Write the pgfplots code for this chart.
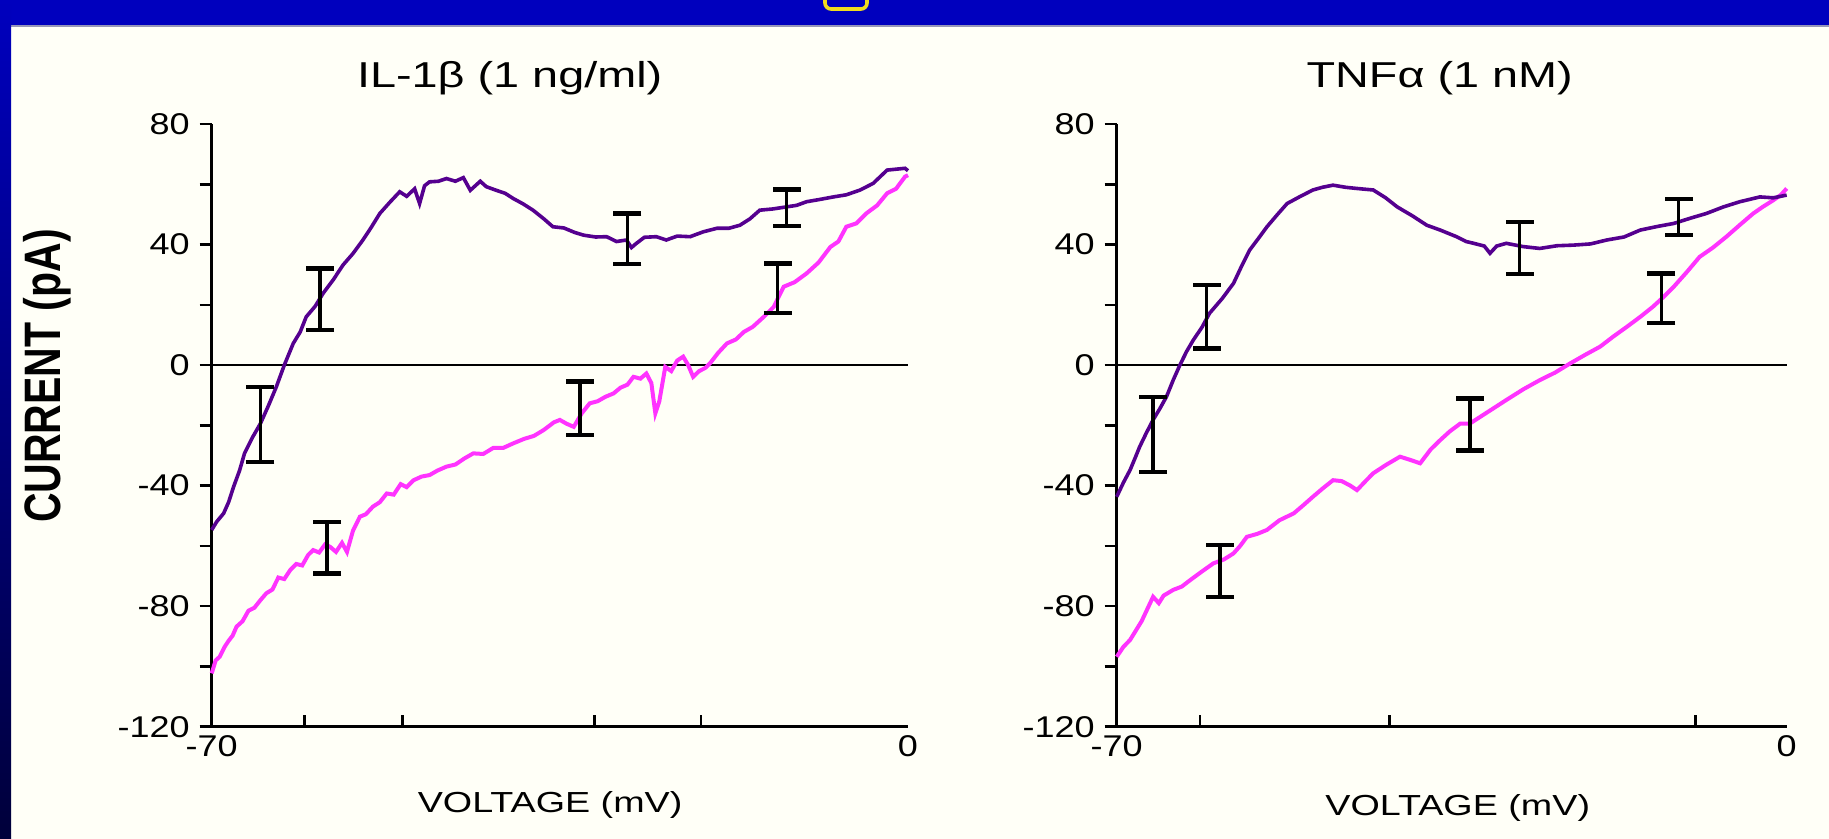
\documentclass[border=0pt]{standalone}
\usepackage{fontspec}
\setmainfont{Liberation Sans}
\usepackage{graphicx}
\usepackage{pgfplots}
\pgfplotsset{compat=1.18}
\definecolor{bg}{HTML}{FFFFF7}
\definecolor{frameblue}{HTML}{0000BE}
\definecolor{framedark}{HTML}{00003A}
\definecolor{trpurple}{HTML}{55008F}
\definecolor{trmag}{HTML}{FF33FF}
\newcommand{\hs}[1]{\scalebox{1.3}[1]{#1}}
\newcommand{\ts}[1]{\scalebox{1.2}[1]{#1}}

\pgfplotsset{
 panel/.style={
  scale only axis,
  axis x line=bottom, axis y line=left,
  axis line style={-, line width=1.3pt, black},
  every outer x axis line/.append style={-},
  every outer y axis line/.append style={-},
  xmin=-70, xmax=0, ymin=-120, ymax=80,
  clip=false,
  tick align=inside,
  major tick length=6pt,
  tick style={line width=1.3pt, black},
  ytick style={xshift=-6pt},
  ytick={-120,-100,...,80},
  yticklabels={\ts{-120},,\ts{-80},,\ts{-40},,\ts{0},,\ts{40},,\ts{80}},
  yticklabel style={anchor=east, inner sep=0pt, xshift=-10.8pt, font=\fontsize{15}{15}\selectfont},
  xticklabels={},
  extra x ticks={-70,0},
  extra x tick labels={\ts{-70},\ts{0}},
  extra x tick style={major tick length=0pt, xticklabel style={anchor=north, inner sep=0pt, yshift=-4pt, font=\fontsize{15}{15}\selectfont}},
  title style={anchor=center, inner sep=0pt, font=\fontsize{18}{18}\selectfont},
  xlabel style={anchor=center, inner sep=0pt, font=\fontsize{14.5}{14.5}\selectfont},
 },
 ebar/.style={draw=none, error bars/.cd, y dir=both, y explicit, error mark=none, error bar style={draw=black, line width=1.8pt}},
 ecap/.style={only marks, mark=-, mark size=7pt, mark options={draw=black, line width=2.2pt}},
}

\begin{document}
\begin{tikzpicture}[x=1pt,y=1pt]
\useasboundingbox (0,0) rectangle (914.5,419.5);
\fill[bg] (0,0) rectangle (914.5,419.5);
\fill[frameblue] (0,406.5) rectangle (914.5,419.5);
\draw[color={rgb,255:red,150;green,150;blue,185}, line width=0.8pt] (5.5,406.5) -- (914.5,406.5);
\shade[top color=frameblue, bottom color=framedark] (0,0) rectangle (5.5,419.5);
\begin{scope}
\clip (0,406.5) rectangle (914.5,419.5);
\draw[color={rgb,255:red,240;green,220;blue,30}, line width=1.8pt, rounded corners=3pt] (412.5,415) rectangle (433.5,432);
\end{scope}

% ---------------- left panel: IL-1beta ----------------
\begin{axis}[panel,
  width=348.15pt, height=301.35pt, at={(105.85pt,56.15pt)}, anchor=south west,
  xtick={-60.7,-50.8,-31.5,-20.8},
  title={\hs{IL-1β (1 ng/ml)}},
  title style={at={(axis description cs:0.428,1.056)}},
  xlabel={\hs{VOLTAGE (mV)}},
  xlabel style={at={(axis description cs:0.486,-0.13)}},
  ylabel={\scalebox{1}[1.25]{\bfseries CURRENT (pA)}},
  ylabel style={at={(axis description cs:-0.2365,0.582)}, anchor=center, font=\fontsize{20.5}{20.5}\selectfont},
]
\addplot[black, line width=1.3pt] coordinates {(-70,0) (0,0)};
\addplot[trmag, line width=2pt] coordinates {
(-70,-102.3) (-69.6,-98) (-69.2,-96.8) (-68.7,-93.5) (-68.3,-91.5) (-67.9,-89.8) (-67.5,-86.8) (-66.9,-85) (-66.3,-81.5) (-65.7,-80.5)
(-65.1,-78) (-64.5,-75.7) (-63.9,-74.5) (-63.3,-70.5) (-62.7,-71) (-62.1,-68) (-61.5,-66) (-60.9,-66.5) (-60.3,-63) (-59.8,-61.4)
(-59.2,-62.2) (-58.6,-59.5) (-58.1,-60.3) (-57.5,-62) (-56.9,-59) (-56.4,-62) (-55.8,-55) (-55.1,-50.3) (-54.5,-49.5) (-53.8,-47)
(-53.1,-45.5) (-52.4,-42.6) (-51.7,-43) (-51.0,-39.5) (-50.4,-40.5) (-49.7,-38.2) (-48.9,-37) (-48.1,-36.5) (-47.3,-35) (-46.4,-33.7)
(-45.5,-33) (-44.6,-31) (-43.7,-29.3) (-42.7,-29.5) (-41.7,-27.5) (-40.7,-27.5) (-39.7,-26) (-38.6,-24.5) (-37.6,-23.5) (-36.6,-21.5)
(-35.6,-19) (-35,-18.2) (-34.3,-19.5) (-33.6,-20.5) (-32.8,-16) (-32,-12.7) (-31.2,-12) (-30.4,-10.5) (-29.6,-9.4) (-28.9,-7.5)
(-28.2,-6.5) (-27.6,-3.9) (-26.9,-4.5) (-26.3,-2.8) (-25.8,-6) (-25.4,-16) (-25,-12) (-24.4,-0.6) (-23.8,-2) (-23.2,1.5)
(-22.6,2.8) (-22.1,0) (-21.6,-3.9) (-21,-2) (-20.4,-1) (-19.9,0.6) (-19.1,4) (-18.2,7.2) (-17.3,8.5) (-16.5,11)
(-15.6,12.7) (-14.5,16) (-13.5,19.3) (-12.5,26) (-11.4,27.5) (-10.2,30.4) (-9,34) (-7.8,39.2) (-7,41) (-6.2,45.9)
(-5.2,47) (-4.2,50.3) (-3.1,53) (-2.1,57) (-1.2,58.5) (-0.3,62.5) (0,63)
};
\addplot[trpurple, line width=1.8pt] coordinates {
(-70,-54.7) (-69.5,-52) (-68.8,-49.2) (-68.3,-45.5) (-67.8,-40.4) (-67.2,-35) (-66.7,-29.3) (-65.9,-24) (-65.1,-19.4) (-64.3,-13.5)
(-63.5,-7.2) (-62.7,0) (-61.8,7.2) (-61.1,11) (-60.5,16) (-59.6,19.5) (-58.8,23.8) (-57.8,28.2) (-56.8,33.2) (-55.8,37)
(-54.8,41.5) (-54,45.5) (-53.1,50.3) (-52.1,54) (-51.1,57.5) (-50.4,56) (-49.6,58.5) (-49.1,53.6) (-48.6,59.5) (-48.1,60.8)
(-47.2,61) (-46.4,61.9) (-45.5,61) (-44.7,62.2) (-44.0,58) (-43.6,59.2) (-43,61) (-42.4,59.2) (-41.4,58) (-40.5,57)
(-39.7,55.3) (-38.7,53.5) (-37.7,51.4) (-36.6,48.5) (-35.7,45.9) (-34.6,45.5) (-33.5,44) (-32.6,43.1) (-31.4,42.5) (-30.3,42.6)
(-29.3,41) (-28.3,41.5) (-27.8,39) (-27.3,40.4) (-26.5,42.4) (-25.3,42.6) (-24.3,41.5) (-23.2,42.8) (-21.9,42.6) (-20.6,44.2)
(-19.2,45.4) (-18,45.4) (-16.9,46.4) (-15.9,48.5) (-14.9,51.4) (-13.6,51.8) (-12.2,52.5) (-11.2,53) (-10.2,54.2) (-8.8,55)
(-7.5,55.8) (-6.2,56.5) (-4.8,58.1) (-3.5,60.3) (-2.8,62.5) (-2.1,64.7) (-1.2,65) (-0.3,65.3) (0,64.5)
};
\addplot[ebar] coordinates {
(-65.1,-19.65) +- (0,12.45)
(-59.1,21.85) +- (0,10.25)
(-58.4,-60.55) +- (0,8.55)
(-33.0,-14.35) +- (0,8.85)
(-28.2,41.9) +- (0,8.4)
(-13.1,25.45) +- (0,8.25)
(-12.2,52.2) +- (0,6.1)
};
\addplot[ecap] coordinates {
(-65.1,-7.2) (-65.1,-32.1) (-59.1,32.1) (-59.1,11.6) (-58.4,-52) (-58.4,-69.1)
(-33.0,-5.5) (-33.0,-23.2) (-28.2,50.3) (-28.2,33.5) (-13.1,33.7) (-13.1,17.2)
(-12.2,58.3) (-12.2,46.1)
};
\end{axis}

% ---------------- right panel: TNF-alpha ----------------
\begin{axis}[panel,
  width=335pt, height=301.35pt, at={(558.35pt,56.15pt)}, anchor=south west,
  xtick={-61.3,-41.5,-9.5},
  title={\hs{TNFα (1 nM)}},
  title style={at={(axis description cs:0.482,1.056)}},
  xlabel={\hs{VOLTAGE (mV)}},
  xlabel style={at={(axis description cs:0.509,-0.135)}},
]
\addplot[black, line width=1.3pt] coordinates {(-70,0) (0,0)};
\addplot[trmag, line width=2pt] coordinates {
(-70,-96.8) (-69.3,-93.5) (-68.6,-91.2) (-67.4,-85) (-66.2,-76.9) (-65.6,-79) (-65.1,-76.5) (-64.1,-74.6) (-63.2,-73.5) (-62.3,-71.3)
(-61.1,-68.5) (-59.9,-65.8) (-58.8,-64.5) (-57.8,-62.5) (-57.1,-60) (-56.4,-57) (-55.3,-56) (-54.3,-54.7) (-53,-51.5) (-51.5,-49.2)
(-50.5,-46.5) (-49.5,-43.7) (-48.5,-41) (-47.4,-38.2) (-46.5,-38.5) (-45.6,-40) (-44.9,-41.5) (-44,-38.5) (-43.2,-35.9) (-41.8,-33)
(-40.4,-30.4) (-39.3,-31.5) (-38.3,-32.6) (-37.2,-28) (-36.2,-24.9) (-35.2,-22) (-34.1,-19.4) (-33.1,-19.4) (-31.2,-15.5) (-29.3,-11.6)
(-27.5,-8) (-25.8,-5) (-24.2,-2.5) (-22.6,0.6) (-21,3.5) (-19.5,6.1) (-18.1,9.5) (-16.7,12.7) (-15.3,16) (-14,19.3)
(-12.9,22.5) (-11.8,26) (-10.4,31) (-9.1,35.9) (-7.7,39) (-6.3,42.6) (-4.9,46.5) (-3.5,50.3) (-2.5,52.5) (-1.4,54.7)
(-0.6,56.5) (0,58.6)
};
\addplot[trpurple, line width=1.8pt] coordinates {
(-70,-43.7) (-69.3,-39) (-68.6,-34.8) (-68.1,-31) (-67.6,-27.1) (-66.9,-22.5) (-66.2,-18.2) (-65.5,-14.5) (-64.8,-10.5) (-64.1,-5)
(-63.4,0) (-62.7,4.5) (-62.0,8.3) (-61.1,12.5) (-60.3,17.2) (-59,22) (-57.8,27.1) (-57,32.5) (-56.1,38.2) (-55.2,42)
(-54.3,45.9) (-53.2,50) (-52.2,53.6) (-50.8,56) (-49.5,58.1) (-48.5,59) (-47.4,59.7) (-46.1,59) (-44.9,58.6) (-43.2,58.1)
(-41.9,55.5) (-40.7,52.5) (-39.1,49.5) (-37.6,46.4) (-36.2,44.8) (-34.5,42.6) (-33.5,41) (-32.7,40.4) (-31.6,39.5) (-31.0,37.1)
(-30.3,39.5) (-29.3,40.4) (-27.5,39.3) (-25.8,38.7) (-24,39.6) (-22.3,39.8) (-20.5,40.2) (-18.8,41.5) (-17,42.5) (-15.3,44.8)
(-13.5,46) (-11.8,47) (-10,48.8) (-8.4,50.3) (-6.6,52.5) (-4.9,54.2) (-2.8,55.8) (-1.4,55.5) (0,56.4)
};
\addplot[ebar] coordinates {
(-66.2,-22.95) +- (0,12.45)
(-60.6,16) +- (0,10.5)
(-59.2,-68.3) +- (0,8.6)
(-33.1,-19.75) +- (0,8.65)
(-27.9,38.85) +- (0,8.65)
(-13.1,22.2) +- (0,8.2)
(-11.3,49.1) +- (0,6.0)
};
\addplot[ecap] coordinates {
(-66.2,-10.5) (-66.2,-35.4) (-60.6,26.5) (-60.6,5.5) (-59.2,-59.7) (-59.2,-76.9)
(-33.1,-11.1) (-33.1,-28.4) (-27.9,47.5) (-27.9,30.2) (-13.1,30.4) (-13.1,14.0)
(-11.3,55.1) (-11.3,43.1)
};
\end{axis}
\end{tikzpicture}
\end{document}
